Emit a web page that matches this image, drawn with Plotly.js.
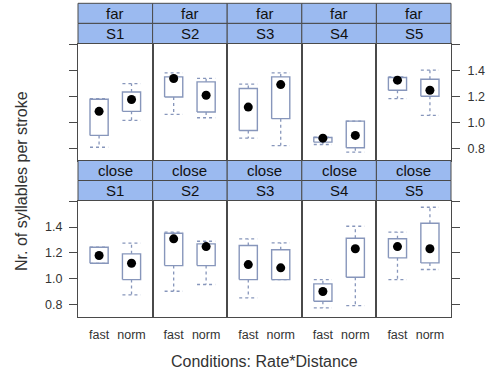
<!DOCTYPE html>
<html><head><meta charset="utf-8">
<script src="https://cdn.plot.ly/plotly-3.0.1.min.js"></script>
<style>html,body{margin:0;padding:0;background:#fff}#chart{width:495px;height:374px}</style>
</head><body><div id="chart"></div>
<script>
const speakers = ['S1','S2','S3','S4','S5'];
const rates = ['fast','norm'];
const distances = ['far','close'];
// order within each array: S1 fast, S1 norm, S2 fast, S2 norm, ... S5 norm
const farLower  = [0.807,1.014, 1.060,1.034, 0.877,0.820, 0.828,0.769, 1.181,1.052];
const farQ1     = [0.898,1.083, 1.194,1.078, 0.936,1.027, 0.846,0.803, 1.245,1.199];
const farMedian = [1.083,1.174, 1.336,1.207, 1.116,1.289, 0.877,0.898, 1.323,1.245];
const farQ3     = [1.176,1.232, 1.348,1.310, 1.259,1.348, 0.882,1.008, 1.344,1.330];
const farUpper  = [1.181,1.297, 1.379,1.336, 1.292,1.379, 0.885,1.008, 1.348,1.400];
const closeLower  = [1.120,0.876, 0.904,0.956, 0.853,0.994, 0.776,0.793, 0.994,1.072];
const closeQ1     = [1.120,0.994, 1.102,1.102, 0.994,0.994, 0.827,1.012, 1.162,1.123];
const closeMedian = [1.180,1.120, 1.309,1.249, 1.110,1.085, 0.902,1.232, 1.249,1.232];
const closeQ3     = [1.244,1.193, 1.352,1.270, 1.257,1.224, 0.961,1.313, 1.309,1.429];
const closeUpper  = [1.244,1.275, 1.360,1.290, 1.309,1.278, 0.994,1.406, 1.360,1.553];
const yTickVals = [0.8,1.0,1.2,1.4,1.6];
const yTickText = ['0.8','1.0','1.2','1.4',''];
const xTitle = 'Conditions: Rate*Distance';
const yTitle = 'Nr. of syllables per stroke';

const stats = {
  far:   {lo:farLower, q1:farQ1, med:farMedian, q3:farQ3, up:farUpper},
  close: {lo:closeLower, q1:closeQ1, med:closeMedian, q3:closeQ3, up:closeUpper}
};

const W = 495, H = 374;
const colEdges = [78,152.6,227.2,301.8,376.4,451];
const panelTop = [43.5, 200.5], panelBot = [160.5, 317];
const strip1 = [[3.3,23.4],[160.5,180.5]], strip2 = [[23.4,43.5],[180.5,200.5]];
const boxCol = '#8796bb', stripCol = '#9bbaf0', frameCol = '#4a4a4a', txtCol = '#333';
const half = 0.28;
const FONT = 'Liberation Sans, Arial, sans-serif';

const traces = [], layout = {
  width: W, height: H, margin: {l:0,r:0,t:0,b:0},
  paper_bgcolor:'#fff', plot_bgcolor:'#fff', showlegend:false,
  font:{family:FONT, color:txtCol},
  shapes:[], annotations:[]
};
const py = v => 1 - v / H, px = v => v / W;

distances.forEach((d, r) => {
  speakers.forEach((s, c) => {
    const n = r*5 + c + 1;
    const xa = 'x' + (n===1?'':n), ya = 'y' + (n===1?'':n);
    const xk = 'xaxis' + (n===1?'':n), yk = 'yaxis' + (n===1?'':n);
    const st = stats[d];
    const medX = [], medY = [];
    rates.forEach((rt, k) => {
      const i = c*2 + k;
      const lo = st.lo[i], q1 = st.q1[i], md = st.med[i], q3 = st.q3[i], up = st.up[i];
      traces.push({type:'scatter', mode:'lines', xaxis:xa, yaxis:ya, hoverinfo:'skip',
        x:[k-half,k+half,k+half,k-half,k-half], y:[q1,q1,q3,q3,q1],
        line:{color:boxCol, width:1.4}});
      const wx = [], wy = [];
      if (up > q3) { wx.push(k,k,null); wy.push(q3,up,null); }
      wx.push(k-half,k+half,null); wy.push(up,up,null);
      if (lo < q1) { wx.push(k,k,null); wy.push(q1,lo,null); }
      wx.push(k-half,k+half); wy.push(lo,lo);
      traces.push({type:'scatter', mode:'lines', xaxis:xa, yaxis:ya, hoverinfo:'skip',
        x:wx, y:wy, line:{color:boxCol, width:1.3, dash:'3px,3px'}});
      medX.push(k); medY.push(md);
    });
    traces.push({type:'scatter', mode:'markers', xaxis:xa, yaxis:ya,
      x:medX, y:medY, marker:{color:'#000', size:9}});

    layout[xk] = {domain:[px(colEdges[c]), px(colEdges[c+1])], range:[-0.65,1.65],
      anchor:ya, showgrid:false, zeroline:false, showline:true, mirror:true,
      linecolor:frameCol, linewidth:1, fixedrange:true,
      tickvals:[0,1], ticktext:rates, ticks:'', showticklabels: r===1,
      ticklabelstandoff:6, tickfont:{size:12.5, color:txtCol, family:FONT}};
    const yax = {domain:[py(panelBot[r]), py(panelTop[r])], range:[0.705,1.605],
      anchor:xa, showgrid:false, zeroline:false, showline:true, mirror:true,
      linecolor:frameCol, linewidth:1, fixedrange:true,
      tickvals:yTickVals, ticktext:yTickText, ticks:'', showticklabels:false,
      tickfont:{size:12.5, color:txtCol, family:FONT}, ticklen:8, tickcolor:frameCol};
    if (c === 0) { yax.side='left'; yax.ticks='outside'; yax.showticklabels = (r===1); yax.ticklabelstandoff=4; }
    if (c === 4) { yax.side='right'; yax.ticks='outside'; yax.showticklabels = (r===0); yax.ticklabelstandoff=5; }
    layout[yk] = yax;

    // strips
    [[strip1[r], d],[strip2[r], s]].forEach(([yy, label]) => {
      layout.shapes.push({type:'rect', xref:'paper', yref:'paper',
        x0:px(colEdges[c]), x1:px(colEdges[c+1]), y0:py(yy[1]), y1:py(yy[0]),
        fillcolor:stripCol, line:{color:frameCol, width:1}, layer:'above'});
      layout.annotations.push({xref:'paper', yref:'paper', showarrow:false,
        x:px((colEdges[c]+colEdges[c+1])/2), y:py((yy[0]+yy[1])/2),
        xanchor:'center', yanchor:'middle', text:label,
        font:{size:15, color:'#111', family:FONT}});
    });
  });
});

layout.annotations.push({xref:'paper', yref:'paper', showarrow:false,
  x:px((colEdges[0]+colEdges[5])/2), y:py(361), xanchor:'center', yanchor:'middle',
  text:xTitle, font:{size:16, color:txtCol, family:FONT}});
layout.annotations.push({xref:'paper', yref:'paper', showarrow:false,
  x:px(22), y:py(181), xanchor:'center', yanchor:'middle', textangle:-90,
  text:yTitle, font:{size:16, color:txtCol, family:FONT}});

Plotly.newPlot('chart', traces, layout, {displayModeBar:false, staticPlot:true});
</script></body></html>
